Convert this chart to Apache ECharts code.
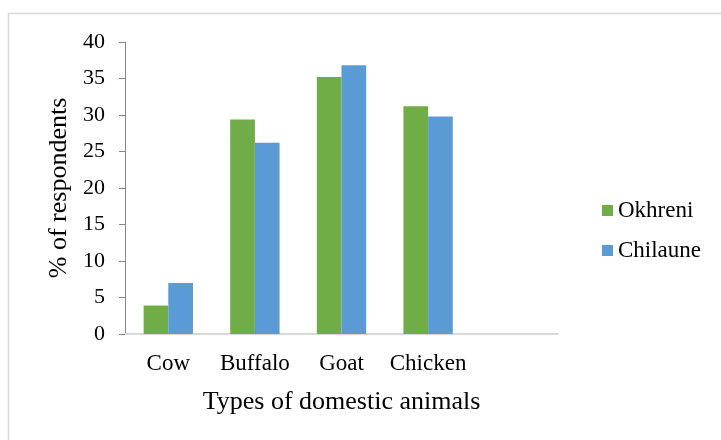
<!DOCTYPE html>
<html>
<head>
<meta charset="utf-8">
<script src="https://cdn.jsdelivr.net/npm/echarts@6/dist/echarts.min.js"></script>
<style>
html,body{margin:0;padding:0;background:#fff;}
#chart{width:721px;height:440px;}
</style>
</head>
<body>
<div id="chart"></div>
<script>
const categories = ['Cow', 'Buffalo', 'Goat', 'Chicken', ''];
const okhreni = [3.9, 29.4, 35.2, 31.2, null];
const chilaune = [7.0, 26.2, 36.8, 29.8, null];
const yTicks = [0, 5, 10, 15, 20, 25, 30, 35, 40];

const font = '"Liberation Serif", "Times New Roman", serif';
const chart = echarts.init(document.getElementById('chart'), null, {renderer: 'canvas'});
chart.setOption({
  animation: false,
  backgroundColor: '#fff',
  textStyle: {fontFamily: font, color: '#000'},
  graphic: [{
    type: 'rect',
    shape: {x: 8.5, y: 13.5, width: 800, height: 500},
    style: {fill: 'none', stroke: '#d9d9d9', lineWidth: 1.5},
    silent: true
  }],
  grid: {left: 125, top: 42, right: 163, bottom: 106},
  legend: {
    orient: 'vertical',
    left: 597,
    top: 194,
    itemWidth: 11,
    itemHeight: 11,
    itemGap: 17,
    icon: 'rect',
    textStyle: {fontFamily: font, fontSize: 23, color: '#000'},
    data: ['Okhreni', 'Chilaune']
  },
  xAxis: {
    type: 'category',
    data: categories,
    name: 'Types of domestic animals',
    nameLocation: 'middle',
    nameGap: 55,
    nameTextStyle: {fontFamily: font, fontSize: 26, color: '#000'},
    axisLine: {lineStyle: {color: '#d9d9d9', width: 2}},
    axisTick: {show: false},
    axisLabel: {fontFamily: font, fontSize: 23, color: '#000', margin: 18, interval: 0}
  },
  yAxis: {
    type: 'value',
    min: yTicks[0],
    max: yTicks[yTicks.length - 1],
    interval: 5,
    name: '% of respondents',
    nameLocation: 'middle',
    nameGap: 52,
    nameTextStyle: {fontFamily: font, fontSize: 26, color: '#000'},
    axisLine: {show: true, lineStyle: {color: '#868686', width: 1}},
    axisTick: {show: true, length: 6, lineStyle: {color: '#868686'}},
    splitLine: {show: false},
    axisLabel: {fontFamily: font, fontSize: 22, color: '#000', margin: 20}
  },
  series: [
    {name: 'Okhreni', type: 'bar', data: okhreni, itemStyle: {color: '#70AD47'}, barGap: '0%', barCategoryGap: '43%'},
    {name: 'Chilaune', type: 'bar', data: chilaune, itemStyle: {color: '#5B9BD5'}, barGap: '0%', barCategoryGap: '43%'}
  ]
});
</script>
</body>
</html>
